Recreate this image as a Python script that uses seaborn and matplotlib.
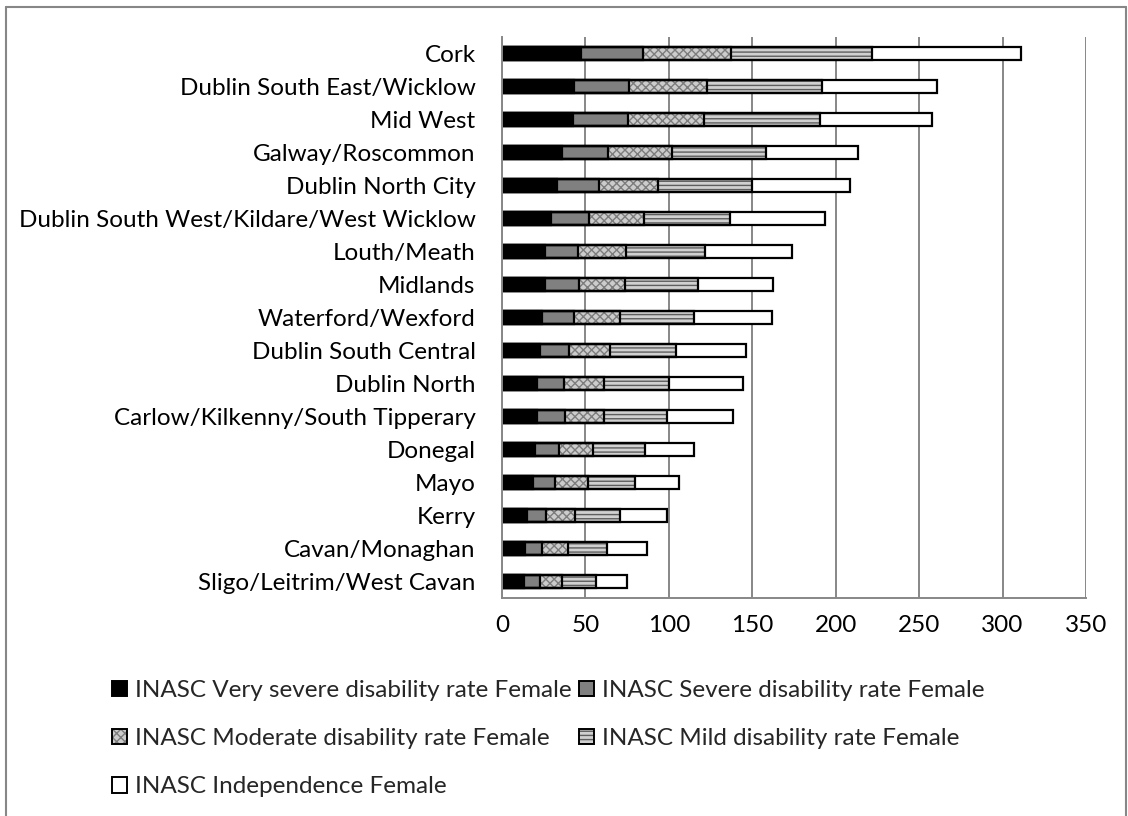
import numpy as np
import pandas as pd
import matplotlib
matplotlib.use("Agg")
import matplotlib.pyplot as plt
from matplotlib.patches import Patch
from matplotlib.lines import Line2D
import seaborn as sns

# Data
regions = ['Cork', 'Dublin South East/Wicklow', 'Mid West', 'Galway/Roscommon',
           'Dublin North City', 'Dublin South West/Kildare/West Wicklow', 'Louth/Meath',
           'Midlands', 'Waterford/Wexford', 'Dublin South Central', 'Dublin North',
           'Carlow/Kilkenny/South Tipperary', 'Donegal', 'Mayo', 'Kerry',
           'Cavan/Monaghan', 'Sligo/Leitrim/West Cavan']
very_severe = [47.2, 43.0, 42.6, 36.2, 33.0, 29.2, 26.0, 25.6, 24.2, 22.6, 21.0, 21.2, 19.6, 18.6, 15.2, 14.0, 13.0]
severe = [37.4, 33.2, 33.0, 27.4, 25.0, 23.0, 19.6, 20.4, 19.0, 17.4, 16.0, 16.4, 14.4, 13.4, 11.4, 10.2, 9.6]
moderate = [52.6, 46.4, 45.6, 38.0, 35.6, 32.8, 29.0, 28.0, 27.4, 25.0, 24.2, 23.6, 20.6, 19.6, 17.4, 15.4, 13.6]
mild = [84.8, 69.4, 69.4, 56.6, 56.0, 51.6, 47.0, 43.2, 44.4, 39.0, 39.0, 37.8, 31.0, 28.4, 27.0, 23.6, 20.4]
independence = [89.0, 68.6, 67.4, 55.0, 59.0, 57.0, 52.0, 45.0, 47.0, 42.0, 44.4, 39.6, 29.6, 26.0, 27.8, 24.0, 18.4]

series = ['INASC Very severe disability rate Female', 'INASC Severe disability rate Female',
          'INASC Moderate disability rate Female', 'INASC Mild disability rate Female',
          'INASC Independence Female']

df = pd.DataFrame({'region': regions, series[0]: very_severe, series[1]: severe,
                   series[2]: moderate, series[3]: mild, series[4]: independence})
cum = df[series].cumsum(axis=1)
cum['region'] = df['region']

# styles: face colour, hatch colour, hatch
styles = {
    series[0]: ('black', 'black', None),
    series[1]: ('#808080', '#808080', None),
    series[2]: ('#cccccc', '#7d7d7d', 'xxxx'),
    series[3]: ('#d0d0d0', '#5e5e5e', '----'),
    series[4]: ('white', 'white', None),
}

sns.set_style("white")
plt.rcParams['font.family'] = ['Lato', 'DejaVu Sans']
plt.rcParams['hatch.linewidth'] = 1.0
fs = 17.5

fig = plt.figure(figsize=(11.28, 8.16), dpi=100)
ax = fig.add_axes([502 / 1128, 1 - 598 / 816, 584 / 1128, 561 / 816])

grid_c = '#878787'
bw = 0.42
# faces, largest cumulative first so smaller ones sit on top
for z, s in enumerate(reversed(series)):
    fc, hc, hatch = styles[s]
    sns.barplot(data=cum, x=s, y='region', order=regions, orient='h', color=fc,
                width=bw, errorbar=None, edgecolor=hc, linewidth=0, hatch=hatch,
                ax=ax, zorder=2 + z)
# black outlines of each cumulative segment
for s in series:
    sns.barplot(data=cum, x=s, y='region', order=regions, orient='h', color='black',
                fill=False, width=bw, errorbar=None, linewidth=1.6, ax=ax, zorder=8)

ax.set_xlim(0, 350)
ax.set_ylim(len(regions) - 0.5, -0.5)
ax.set_xticks(np.arange(0, 351, 50))
ax.set_xlabel('')
ax.set_ylabel('')
ax.set_axisbelow(True)
ax.grid(axis='x', color=grid_c, linewidth=1.4)
ax.grid(axis='y', visible=False)
for side in ['top', 'right']:
    ax.spines[side].set_visible(False)
for side in ['left', 'bottom']:
    ax.spines[side].set_color(grid_c)
    ax.spines[side].set_linewidth(1.4)
    ax.spines[side].set_zorder(9)

ax.tick_params(axis='x', direction='inout', length=9, width=1.4, color=grid_c,
               labelsize=fs, labelcolor='black', pad=8)
ax.tick_params(axis='y', which='major', length=0, labelsize=fs, labelcolor='black', pad=19)
ax.set_yticks(np.arange(-0.5, len(regions), 1), minor=True)
ax.tick_params(axis='y', which='minor', direction='out', length=5, width=1.4, color=grid_c)

# legend
handles = []
for s in series:
    fc, hc, hatch = styles[s]
    face = Patch(facecolor=fc, edgecolor=hc, hatch=hatch, linewidth=0)
    edge = Patch(facecolor='none', edgecolor='black', linewidth=1.4)
    handles.append((face, edge))
order = [0, 2, 4, 1, 3]
fig.legend([handles[i] for i in order], [series[i] for i in order], ncol=2,
           loc='upper left', bbox_to_anchor=(112 / 1128, 1 - 680 / 816),
           frameon=False, fontsize=fs, handlelength=0.6, handleheight=0.6,
           handletextpad=0.35, columnspacing=0.3, labelspacing=1.12,
           borderpad=0, borderaxespad=0)

# chart frame
fig.add_artist(Line2D([6 / 1128, 6 / 1128], [0, 1 - 7 / 816], transform=fig.transFigure,
                      color=grid_c, linewidth=1.5))
fig.add_artist(Line2D([6 / 1128, 1126 / 1128], [1 - 7 / 816, 1 - 7 / 816],
                      transform=fig.transFigure, color=grid_c, linewidth=1.5))
fig.add_artist(Line2D([1126 / 1128, 1126 / 1128], [0, 1 - 7 / 816], transform=fig.transFigure,
                      color=grid_c, linewidth=1.5))

fig.savefig('out.png', dpi=100)
